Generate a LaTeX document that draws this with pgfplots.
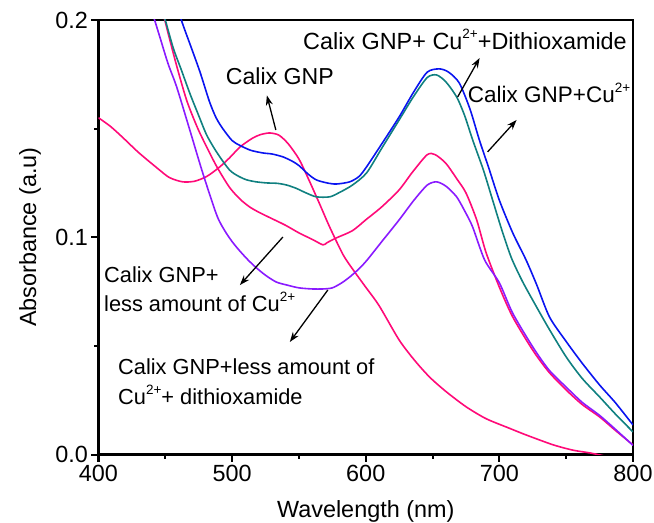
\documentclass[border=0pt]{standalone}
\usepackage{pgfplots}
\pgfplotsset{compat=1.18}
\usepackage{fontspec}
\setmainfont{Liberation Sans}
\usetikzlibrary{arrows.meta}
\definecolor{cpink}{HTML}{FF0A78}
\definecolor{cpurple}{HTML}{8A1AFF}
\definecolor{cteal}{HTML}{108080}
\definecolor{cblue}{HTML}{0A14F0}
\newcommand\fs{\fontsize{23.4}{28}\selectfont}
\newcommand\fsa{\fontsize{23.1}{28}\selectfont}
\newcommand\fsb{\fontsize{22.5}{27}\selectfont}
\newcommand\fsc{\fontsize{21.8}{26}\selectfont}
\newcommand\sups[1]{\raisebox{0.9ex}{\fontsize{13.5}{14}\selectfont #1}}
\begin{document}
\begin{tikzpicture}
\begin{axis}[
 scale only axis, width=534.5pt, height=434.5pt,
 xmin=400, xmax=800, ymin=0, ymax=0.2,
 axis line style={line width=2.8pt},
 xtick={400,500,...,800}, ytick={0,0.1,0.2},
 minor xtick={450,550,650,750}, minor ytick={0.05,0.15},
 tick align=outside, tick pos=left,
 major tick length=7pt, minor tick length=4pt,
 every tick/.append style={black, line width=2pt},
 scaled y ticks=false,
 yticklabel style={/pgf/number format/.cd, fixed, fixed zerofill, precision=1},
 /pgf/number format/assume math mode=true,
 every tick label/.append style={font=\fs},
 label style={font=\fs},
 xlabel={Wavelength (nm)}, ylabel={Absorbance (a.u)},
 xlabel style={at={(axis description cs:0.5,0)}, anchor=north, yshift=-46pt, inner sep=0pt},
 ylabel style={at={(axis description cs:-0.128,0.5)}, anchor=center, inner sep=0pt},
 clip=true,
 every axis plot/.append style={line width=1.6pt, no marks, smooth, tension=0.45},
]
% Calix GNP
\addplot[cpink] coordinates {
(400,0.155) (409,0.151) (418,0.146) (430,0.139) (443.6,0.132) (453,0.1275) (463,0.1255)
(472,0.1258) (481,0.128) (490,0.132) (498,0.1365) (506,0.1416) (515,0.1455) (521,0.1472) (528,0.148)
(535,0.147) (542,0.143) (550,0.136) (557,0.127) (565,0.116) (573,0.1047) (583,0.092)
(590,0.0855) (600,0.077) (610,0.0685) (625,0.0527) (637,0.043) (648,0.0355) (660,0.029)
(675,0.022) (690,0.0165) (707,0.0122) (720,0.009) (740,0.0045) (755,0.002) (768,0.0007) (781,-0.001)};
% less Cu
\addplot[cpink] coordinates {
(445,0.212) (450,0.199) (458,0.180) (466,0.163) (474,0.1505) (481,0.1415) (488.6,0.1324)
(498,0.123) (506,0.1175) (513,0.114) (520,0.1115) (530,0.1085) (540,0.1055) (550,0.102) (560,0.099)
(568,0.0965) (571,0.0975) (578,0.0997) (590,0.103) (600,0.108) (612,0.114) (625,0.1218)
(635,0.130) (646,0.138) (652,0.138) (660,0.134) (668,0.127) (675,0.1204) (683,0.108)
(690,0.093) (700,0.077) (710,0.0633) (725,0.048) (737,0.038) (750,0.0297) (762,0.023)
(775,0.0173) (787,0.011) (800,0.0044)};
% less Cu + dithioxamide
\addplot[cpurple] coordinates {
(438,0.208) (442,0.200) (446,0.192) (452,0.180) (458.6,0.169) (468.5,0.149) (478,0.1296)
(488.6,0.110) (495,0.1025) (500.6,0.0975) (506,0.0935) (512,0.0895) (518,0.086) (525,0.0825)
(533,0.0794) (541,0.078) (550,0.0767) (560,0.0762) (568,0.0762) (575,0.0767) (582,0.079)
(588,0.0817) (595,0.0855) (601,0.0895) (612,0.098) (625,0.108) (636,0.117) (646,0.124)
(653,0.1255) (660,0.1235) (668,0.1186) (675,0.111) (680,0.1047) (689,0.0895) (700,0.079)
(710,0.065) (725,0.0495) (737,0.039) (750,0.031) (762,0.024) (775,0.018) (787,0.0115) (800,0.0042)};
% GNP + Cu
\addplot[cteal] coordinates {
(446,0.209) (450,0.200) (456,0.187) (462,0.177) (468.5,0.166) (475,0.156) (481,0.147)
(488.6,0.139) (498,0.131) (505,0.128) (511,0.1264) (518,0.1255) (526,0.125)
(534,0.1248) (541,0.124) (548,0.1225) (555,0.1205) (563,0.1186) (573,0.1186) (580,0.1205) (590,0.124)
(600.6,0.1296) (612,0.141) (625,0.154) (636,0.165) (646,0.1735) (653,0.1747) (660,0.1715)
(668,0.1646) (674,0.156) (680,0.1448) (688,0.131) (695,0.117) (702,0.103) (709,0.0905)
(717,0.08) (725,0.071) (737,0.058) (750,0.0449) (762,0.035) (775,0.0265) (787,0.0185) (800,0.0104)};
% GNP + Cu + dithioxamide
\addplot[cblue] coordinates {
(458,0.210) (462,0.200) (469,0.188) (476,0.176) (483,0.1625) (488,0.155) (493,0.150)
(500,0.1445) (506,0.1422) (514,0.140) (523,0.1388) (530,0.1383) (538,0.137) (545,0.135) (550,0.133)
(557,0.129) (563,0.1264) (571,0.125) (578,0.1245) (588,0.1255) (595,0.128) (600.6,0.1324)
(612,0.143) (625,0.1554) (636,0.167) (646,0.176) (655,0.1775) (662,0.176) (670,0.171)
(678,0.159) (685,0.1448) (692,0.132) (700,0.117) (710,0.102) (720,0.0895) (728,0.078)
(737.5,0.0633) (750,0.052) (762,0.042) (775,0.032) (787,0.0237) (800,0.0136)};
% annotations
\draw[-{Stealth[length=10pt,width=7pt]}, line width=1.3pt] (axis cs:532.7,0.1494) -- (axis cs:526,0.1653);
\node[font=\fsa, anchor=base, inner sep=0pt] at (axis cs:535.7,0.1702) {Calix GNP};
\draw[-{Stealth[length=10pt,width=7pt]}, line width=1.3pt] (axis cs:668.8,0.1646) -- (axis cs:685.2,0.1825);
\node[font=\fs, anchor=base west, inner sep=0pt] at (axis cs:553,0.1863) {Calix GNP+ Cu\sups{2+}+Dithioxamide};
\draw[-{Stealth[length=10pt,width=7pt]}, line width=1.3pt] (axis cs:691.2,0.1393) -- (axis cs:712.9,0.154);
\node[font=\fsb, anchor=base west, inner sep=0pt] at (axis cs:676.3,0.1618) {Calix GNP+Cu\sups{2+}};
\draw[-{Stealth[length=10pt,width=7pt]}, line width=1.3pt] (axis cs:538,0.1001) -- (axis cs:505.8,0.078);
\node[font=\fsc, anchor=base west, inner sep=0pt] at (axis cs:404.1,0.0794) {Calix GNP+};
\node[font=\fsc, anchor=base west, inner sep=0pt] at (axis cs:404.1,0.0656) {less amount of Cu\sups{2+}};
\draw[-{Stealth[length=10pt,width=7pt]}, line width=1.3pt] (axis cs:571.6,0.0757) -- (axis cs:543.2,0.0518);
\node[font=\fsc, anchor=base west, inner sep=0pt] at (axis cs:414.6,0.0366) {Calix GNP+less amount of};
\node[font=\fsc, anchor=base west, inner sep=0pt] at (axis cs:414.6,0.0230) {Cu\sups{2+}+ dithioxamide};
\end{axis}
\pgfresetboundingbox
\path[use as bounding box] ([shift={(-98.5pt,-68.5pt)}]current axis.south west) rectangle ([shift={(21pt,20pt)}]current axis.north east);
\end{tikzpicture}
\end{document}
